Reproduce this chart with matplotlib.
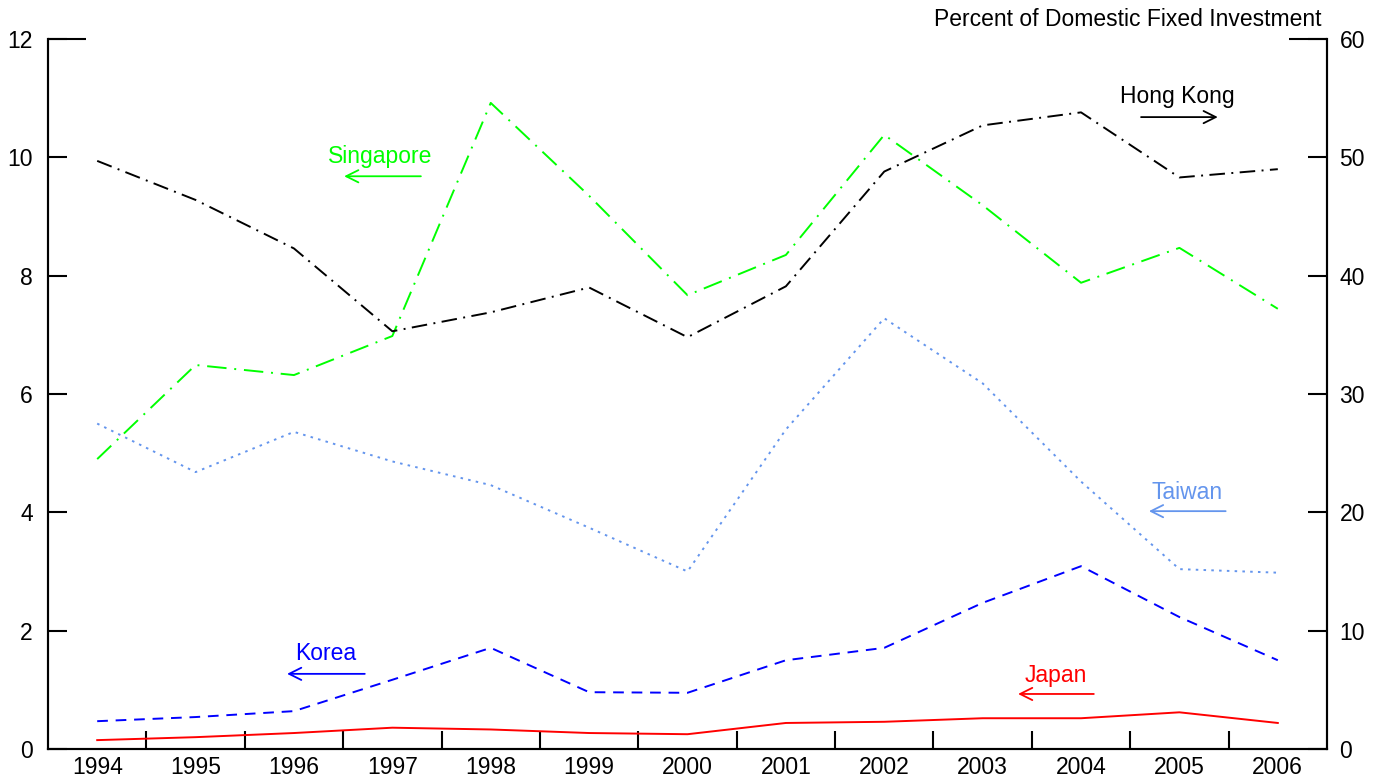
import matplotlib
matplotlib.use("Agg")
import matplotlib.pyplot as plt

plt.rcParams['font.family'] = ['Liberation Sans', 'DejaVu Sans']

years = list(range(1994, 2007))

# left axis (percent)
singapore = [4.90, 6.49, 6.32, 6.98, 10.92, 9.35, 7.67, 8.35, 10.38, 9.19, 7.88, 8.47, 7.44]
korea = [0.47, 0.54, 0.64, 1.17, 1.71, 0.96, 0.95, 1.50, 1.71, 2.47, 3.09, 2.23, 1.50]
japan = [0.15, 0.20, 0.27, 0.36, 0.33, 0.27, 0.25, 0.44, 0.46, 0.52, 0.52, 0.62, 0.44]

# right axis (percent)
hong_kong = [49.7, 46.4, 42.3, 35.3, 36.9, 39.0, 34.8, 39.1, 48.8, 52.7, 53.8, 48.3, 49.0]
taiwan = [27.5, 23.4, 26.8, 24.3, 22.3, 18.7, 15.0, 27.0, 36.4, 30.9, 22.6, 15.2, 14.9]

left_ticks = [0, 2, 4, 6, 8, 10, 12]
right_ticks = [0, 10, 20, 30, 40, 50, 60]

GREEN = "#00FF00"
TAIWAN_C = "#6495ED"
KOREA_C = "#0000FF"
JAPAN_C = "#FF0000"

fig = plt.figure(figsize=(13.81, 7.78), dpi=100)
ax = fig.add_axes([48 / 1381, 29 / 778, 1279 / 1381, 710 / 778])
ax2 = ax.twinx()

lw = 1.4
ax.plot(years, singapore, color=GREEN, lw=lw, linestyle=(0, (10, 4, 1, 4)))
ax.plot(years, korea, color=KOREA_C, lw=lw, linestyle=(0, (5.5, 4)))
ax.plot(years, japan, color=JAPAN_C, lw=lw, linestyle="-")
ax2.plot(years, hong_kong, color="black", lw=lw, linestyle=(0, (8, 3.3, 1, 3.3)))
ax2.plot(years, taiwan, color=TAIWAN_C, lw=lw, linestyle=(0, (1.3, 2.7)))

ax.set_xlim(1993.5, 2006.5)
ax.set_ylim(0, 12)
ax2.set_ylim(0, 60)

fs = 16.5
ax.set_yticks(left_ticks)
ax.set_yticklabels([str(t) for t in left_ticks])
ax2.set_yticks(right_ticks)
ax2.set_yticklabels([str(t) for t in right_ticks])
ax.set_xticks(years)
ax.set_xticklabels([str(y) for y in years])
ax.set_xticks([y + 0.5 for y in years[:-1]], minor=True)

ax.tick_params(axis='x', which='major', length=0, labelsize=fs, pad=5)
ax.tick_params(axis='x', which='minor', direction='in', length=13, width=1.5)
ax.tick_params(axis='y', direction='in', length=13.5, width=1.5, labelsize=fs, pad=11)
ax2.tick_params(axis='y', direction='in', length=13.5, width=1.5, labelsize=fs, pad=9)

for a in (ax, ax2):
    a.spines['top'].set_visible(False)
    for s in ('left', 'right', 'bottom'):
        a.spines[s].set_linewidth(1.5)

# longer top ticks
ax.plot([0, 38 / 1279], [1, 1], transform=ax.transAxes, color="black", lw=1.5,
        clip_on=False, solid_capstyle='butt')
ax.plot([1 - 38 / 1279, 1], [1, 1], transform=ax.transAxes, color="black", lw=1.5,
        clip_on=False, solid_capstyle='butt')

fig.text(1322 / 1381, 1 - 20 / 778, "Percent of Domestic Fixed Investment",
         ha='right', va='center', fontsize=fs)

arrow = dict(arrowstyle='->', lw=1.3, mutation_scale=22, shrinkA=0, shrinkB=0)


def label(text, tx, ty, x0, x1, ay, color):
    ax.text(tx, ty, text, color=color, fontsize=fs, ha='center', va='center')
    ax.annotate("", xy=(x1, ay), xytext=(x0, ay),
                arrowprops=dict(arrow, color=color))


label("Singapore", 1996.88, 10.02, 1997.29, 1996.51, 9.68, GREEN)
label("Hong Kong", 2004.98, 11.02, 2004.61, 2005.39, 10.68, "black")
label("Taiwan", 2005.08, 4.34, 2005.47, 2004.69, 4.02, TAIWAN_C)
label("Korea", 1996.32, 1.62, 1996.72, 1995.93, 1.27, KOREA_C)
label("Japan", 2003.74, 1.25, 2004.13, 2003.36, 0.93, JAPAN_C)

fig.savefig("out.png", dpi=100)
